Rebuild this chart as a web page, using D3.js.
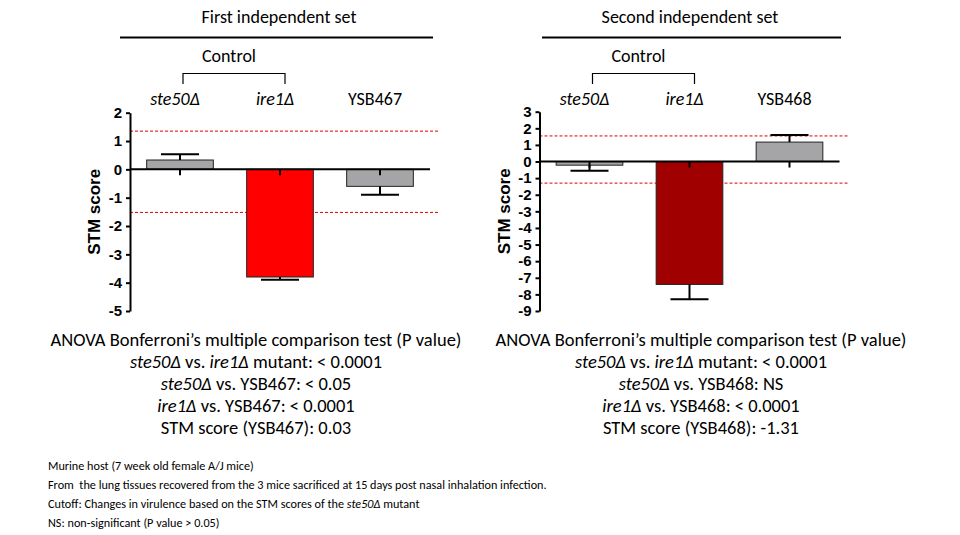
<!DOCTYPE html>
<html><head><meta charset="utf-8">
<script src="https://cdn.jsdelivr.net/npm/d3@7"></script>
<style>
body{margin:0;background:#fff;}
svg{display:block;}
.cal{font-family:Carlito,Lato,"Liberation Sans",sans-serif;}
.ax text{font-family:"Liberation Sans",Arial,sans-serif;font-weight:bold;font-size:15px;}
</style></head>
<body>
<svg id="c" width="960" height="535"></svg>
<script>
// ---- data ----
const set1Title = "First independent set";
const set2Title = "Second independent set";
const set1Cats = ["ste50Δ", "ire1Δ", "YSB467"];
const set2Cats = ["ste50Δ", "ire1Δ", "YSB468"];
const catItalic = [true, true, false];
const set1Means = [0.33, -3.8, -0.6];
const set1Errs  = [0.2, 0.1, 0.3];
const set2Means = [-0.22, -7.4, 1.17];
const set2Errs  = [0.33, 0.9, 0.43];
const set1Cutoffs = [1.35, -1.52];
const set2Cutoffs = [1.54, -1.3];
const set1Ticks = [2, 1, 0, -1, -2, -3, -4, -5];
const set2Ticks = [3, 2, 1, 0, -1, -2, -3, -4, -5, -6, -7, -8, -9];
const set1Colors = ["#a5a5a7", "#ff0000", "#a5a5a7"];
const set2Colors = ["#a5a5a7", "#a00000", "#a5a5a7"];
const yLabel = "STM score";
const controlLabel = "Control";
const set1Stats = [
  [["ANOVA Bonferroni’s multiple comparison test (P value)", false]],
  [["ste50Δ", true], [" vs. ", false], ["ire1Δ", true], [" mutant: < 0.0001", false]],
  [["ste50Δ", true], [" vs. YSB467: < 0.05", false]],
  [["ire1Δ", true], [" vs. YSB467: < 0.0001", false]],
  [["STM score (YSB467): 0.03", false]]
];
const set2Stats = [
  [["ANOVA Bonferroni’s multiple comparison test (P value)", false]],
  [["ste50Δ", true], [" vs. ", false], ["ire1Δ", true], [" mutant: < 0.0001", false]],
  [["ste50Δ", true], [" vs. YSB468: NS", false]],
  [["ire1Δ", true], [" vs. YSB468: < 0.0001", false]],
  [["STM score (YSB468): -1.31", false]]
];
const footnotes = [
  [["Murine host (7 week old female A/J mice)", false]],
  [["From  the lung tissues recovered from the 3 mice sacrificed at 15 days post nasal inhalation infection.", false]],
  [["Cutoff: Changes in virulence based on the STM scores of the ", false], ["ste50Δ", true], [" mutant", false]],
  [["NS: non-significant (P value > 0.05)", false]]
];

const svg = d3.select("#c");

function richText(g, x, y, segs, size, anchor) {
  const t = g.append("text").attr("class", "cal").attr("x", x).attr("y", y)
    .attr("font-size", size).attr("text-anchor", anchor).attr("fill", "#000")
    .style("white-space", "pre");
  segs.forEach(s => t.append("tspan").text(s[0]).attr("font-style", s[1] ? "italic" : "normal"));
  return t;
}

function panel(cfg) {
  const g = svg.append("g");
  const x = d3.scaleBand().domain(cfg.cats).range([cfg.x0, cfg.x0 + 300]).paddingInner(1/3).paddingOuter(1/6);
  const y = d3.scaleLinear().domain(cfg.domain).range([311, cfg.yTop]);

  // header
  g.append("text").attr("class", "cal").attr("x", cfg.titleX).attr("y", 23).attr("font-size", 18)
    .attr("text-anchor", "middle").text(cfg.title);
  g.append("line").attr("x1", cfg.lineX[0]).attr("x2", cfg.lineX[1]).attr("y1", 37.5).attr("y2", 37.5)
    .attr("stroke", "#000").attr("stroke-width", 2);
  const c0 = x(cfg.cats[0]) + x.bandwidth()/2, c1 = x(cfg.cats[1]) + x.bandwidth()/2;
  g.append("text").attr("class", "cal").attr("x", (c0 + c1)/2 - 1).attr("y", 62).attr("font-size", 18)
    .attr("text-anchor", "middle").text(controlLabel);
  g.append("path").attr("d", `M${c0 + 3},84V73.5H${c1 + 5}V84`).attr("fill", "none")
    .attr("stroke", "#000").attr("stroke-width", 1.2);
  cfg.cats.forEach((c, i) => {
    g.append("text").attr("class", "cal").attr("x", x(c) + x.bandwidth()/2 - 5).attr("y", 104.5)
      .attr("font-size", 18).attr("text-anchor", "middle")
      .attr("font-style", catItalic[i] ? "italic" : "normal").text(c);
  });

  // cutoffs
  cfg.cutoffs.forEach(v => {
    g.append("line").attr("x1", cfg.x0).attr("x2", cfg.x0 + 308).attr("y1", y(v)).attr("y2", y(v))
      .attr("stroke", "#e00000").attr("stroke-width", 1).attr("stroke-dasharray", "3,2");
  });

  // bars
  cfg.cats.forEach((c, i) => {
    const v = cfg.means[i];
    g.append("rect").attr("x", x(c)).attr("width", x.bandwidth())
      .attr("y", Math.min(y(v), y(0))).attr("height", Math.abs(y(v) - y(0)))
      .attr("fill", cfg.colors[i]).attr("stroke", "#222").attr("stroke-width", 1);
  });
  // zero line
  g.append("line").attr("x1", cfg.x0).attr("x2", cfg.x0 + 300).attr("y1", y(0)).attr("y2", y(0))
    .attr("stroke", "#000").attr("stroke-width", 2);
  // error bars
  cfg.cats.forEach((c, i) => {
    const v = cfg.means[i], e = cfg.errs[i];
    const cx = x(c) + x.bandwidth()/2;
    const end = v >= 0 ? v + e : v - e;
    g.append("line").attr("x1", cx).attr("x2", cx).attr("y1", y(v)).attr("y2", y(end))
      .attr("stroke", "#000").attr("stroke-width", 2);
    g.append("line").attr("x1", cx - 19).attr("x2", cx + 19).attr("y1", y(end)).attr("y2", y(end))
      .attr("stroke", "#000").attr("stroke-width", 2);
    g.append("line").attr("x1", cx).attr("x2", cx).attr("y1", y(0)).attr("y2", y(0) + 6)
      .attr("stroke", "#000").attr("stroke-width", 2);
  });

  // axis
  const ax = g.append("g").attr("class", "ax").attr("transform", `translate(${cfg.x0},0)`)
    .call(d3.axisLeft(y).tickValues(cfg.ticks).tickFormat(d3.format("d")).tickSize(4).tickSizeOuter(0).tickPadding(4));
  ax.select(".domain").attr("stroke-width", 2);
  ax.selectAll(".tick line").attr("stroke-width", 2);
  ax.selectAll(".tick text").text(d => d < 0 ? "-" + Math.abs(d) : d);

  g.append("text").attr("transform", `translate(${cfg.labelX},${(y.range()[0] + y.range()[1])/2}) rotate(-90)`)
    .attr("text-anchor", "middle").attr("font-family", "'Liberation Sans',Arial,sans-serif")
    .attr("font-weight", "bold").attr("font-size", 17).text(yLabel);

  // stats
  cfg.stats.forEach((segs, i) => richText(g, cfg.statsX, 346 + i * 22, segs, 18.5, "middle"));
}

panel({title: set1Title, titleX: 279, lineX: [120, 433], x0: 130, yTop: 112.7, domain: [-5, 2],
  cats: set1Cats, means: set1Means, errs: set1Errs, cutoffs: set1Cutoffs, ticks: set1Ticks,
  colors: set1Colors, labelX: 100, stats: set1Stats, statsX: 256});
panel({title: set2Title, titleX: 690, lineX: [542, 841], x0: 539.5, yTop: 111.7, domain: [-9, 3],
  cats: set2Cats, means: set2Means, errs: set2Errs, cutoffs: set2Cutoffs, ticks: set2Ticks,
  colors: set2Colors, labelX: 510, stats: set2Stats, statsX: 701});

footnotes.forEach((segs, i) => richText(svg, 48, 469.5 + i * 19, segs, 12.2, "start"));
</script>
</body></html>
